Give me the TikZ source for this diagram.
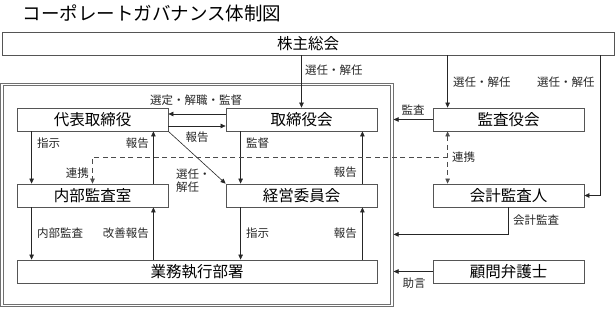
\documentclass[tikz,border=0pt]{standalone}
\usepackage{fontspec}
\setmainfont{Noto Sans CJK JP}
\usetikzlibrary{arrows.meta,calc}
\definecolor{boxline}{HTML}{555555}
\definecolor{frameline}{HTML}{707070}
\begin{document}
\begin{tikzpicture}[x=1pt,y=-1pt,
  box/.style={draw=boxline, line width=0.8pt, minimum width=151pt, minimum height=23pt,
    inner sep=0pt, font=\fontsize{15.5}{16}\selectfont},
  lbl/.style={font=\fontsize{11.5}{13}\selectfont, inner sep=0pt, text=black!85},
  arr/.style={-{Triangle[length=5pt,width=4.5pt]}, line width=0.6pt, draw=black!85},
  dsh/.style={line width=0.6pt, draw=black!70, dash pattern=on 5pt off 3.5pt}]
\useasboundingbox (0,0) rectangle (615,308);

\node[anchor=west, font=\fontsize{18.5}{20}\selectfont] (title) at (19,13) {コーポレートガバナンス体制図};

% company frame
\node[draw=frameline, line width=0.8pt, double=white, double distance=1.5pt,
      minimum width=390pt, minimum height=221pt, inner sep=0pt, outer sep=1.6pt] (company) at (197,195) {};

\node[box, minimum width=612pt] (kabunushi) at (308,43.5) {株主総会};
\node[box] (daihyo) at (92.5,119.5) {代表取締役};
\node[box] (torishimari) at (301.5,119.5) {取締役会};
\node[box] (kansayaku) at (508.5,119.5) {監査役会};
\node[box] (naibu) at (92.5,195.5) {内部監査室};
\node[box] (keiei) at (301.5,195.5) {経営委員会};
\node[box] (kaikei) at (508.5,195.5) {会計監査人};
\node[box, minimum width=360pt] (gyomu) at (197,271.5) {業務執行部署};
\node[box] (komon) at (508.5,271.5) {顧問弁護士};

% shareholders
\draw[arr] (torishimari.north |- kabunushi.south) -- (torishimari.north);
\node[lbl, anchor=west] (l1) at (305,70) {選任・解任};
\coordinate (ks) at ([xshift=15pt]kansayaku.north west);
\draw[arr] (ks |- kabunushi.south) -- (ks);
\node[lbl, anchor=west] (l2) at (453,82) {選任・解任};
\coordinate (kr) at ([xshift=-14pt]kabunushi.south east);
\draw[arr] (kr) |- (kaikei.east);
\node[lbl, anchor=west] (l3) at (537,82) {選任・解任};

% board <-> representative
\draw[arr] ([yshift=5.5pt]torishimari.west) -- ([yshift=5.5pt]daihyo.east);
\node[lbl] (l4) at (196,100) {選定・解職・監督};
\draw[arr] ([yshift=-6.5pt]daihyo.east) -- ([yshift=-6.5pt]torishimari.west);
\node[lbl] (l5) at (197,137) {報告};

% diagonal
\draw[arr] (daihyo.south east) -- (keiei.north west);
\node[lbl, anchor=west, align=left] (l6) at (176,180.5) {選任・\\解任};

% representative <-> internal audit
\coordinate (d1) at ([xshift=15pt]daihyo.south west);
\draw[arr] (d1) -- (d1 |- naibu.north);
\node[lbl, anchor=west] (l7) at (37,143) {指示};
\coordinate (d2) at ([xshift=-15pt]daihyo.south east);
\draw[arr] (d2 |- naibu.north) -- (d2);
\node[lbl, anchor=east] (l8) at (149,143) {報告};

% board <-> management committee
\coordinate (t1) at ([xshift=15pt]torishimari.south west);
\draw[arr] (t1) -- (t1 |- keiei.north);
\node[lbl, anchor=west] (l9) at (246,143) {監督};
\coordinate (t2) at ([xshift=-15pt]torishimari.south east);
\draw[arr] (t2 |- keiei.north) -- (t2);
\node[lbl, anchor=east] (l10) at (357,172) {報告};

% audit board -> company
\draw[arr] (kansayaku.west) -- (kansayaku.west -| company.east);
\node[lbl] (l11) at (413,110) {監査};

% cooperation (dashed)
\coordinate (c1) at ([xshift=15pt]kansayaku.south west);
\coordinate (c2) at ([xshift=15pt]kaikei.north west);
\coordinate (cj) at ($(c1)!0.5!(c2)$);
\draw[dsh, {Triangle[length=5pt,width=4.5pt]}-{Triangle[length=5pt,width=4.5pt]}] (c1) -- (c2);
\draw[dsh, -{Triangle[length=5pt,width=4.5pt]}] (cj) -| (naibu.north);
\node[lbl, anchor=west] (l12) at (452,157) {連携};
\node[lbl, anchor=east] (l13) at (89,173) {連携};

% internal audit <-> business units
\coordinate (n1) at ([xshift=15pt]naibu.south west);
\draw[arr] (n1) -- (n1 |- gyomu.north);
\node[lbl, anchor=west] (l14) at (37,233) {内部監査};
\coordinate (n2) at ([xshift=-15pt]naibu.south east);
\draw[arr] (n2 |- gyomu.north) -- (n2);
\node[lbl, anchor=east] (l15) at (149,233) {改善報告};

% management committee <-> business units
\coordinate (k1) at ([xshift=15pt]keiei.south west);
\draw[arr] (k1) -- (k1 |- gyomu.north);
\node[lbl, anchor=west] (l16) at (246,233) {指示};
\coordinate (k2) at ([xshift=-15pt]keiei.south east);
\draw[arr] (k2 |- gyomu.north) -- (k2);
\node[lbl, anchor=east] (l17) at (357,233) {報告};

% accounting auditor -> company
\coordinate (a2) at ($(kaikei.south)+(0,27)$);
\draw[arr] (kaikei.south) -- (a2) -- (a2 -| company.east);
\node[lbl, anchor=west] (l18) at (513,220) {会計監査};

% legal advisor -> company
\draw[arr] (komon.west) -- (komon.west -| company.east);
\node[lbl] (l19) at (414,283) {助言};
\end{tikzpicture}
\end{document}
